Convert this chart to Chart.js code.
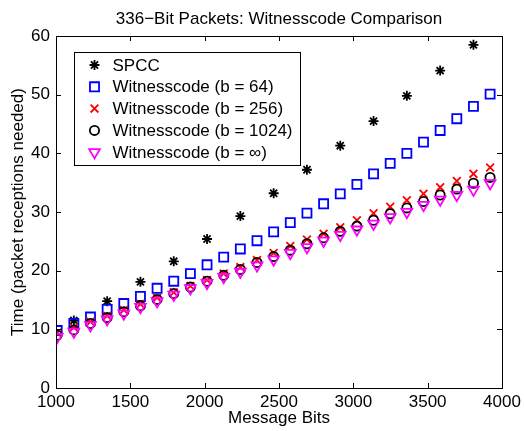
<!DOCTYPE html>
<html>
<head>
<meta charset="utf-8">
<script src="https://cdn.jsdelivr.net/npm/chart.js@4/dist/chart.umd.min.js"></script>
<style>
  html, body { margin: 0; padding: 0; background: #fff; }
  #wrap { width: 524px; height: 431px; }
</style>
</head>
<body>
<div id="wrap"><canvas id="chart"></canvas></div>
<script>
// message sizes (bits) for the witnesscode runs
const bits = [1008, 1120, 1232, 1344, 1456, 1568, 1680, 1792, 1904, 2016, 2128, 2240, 2352, 2464,
              2576, 2688, 2800, 2912, 3024, 3136, 3248, 3360, 3472, 3584, 3696, 3808, 3920];
// SPCC only every other size
const spccBits = [1120, 1344, 1568, 1792, 2016, 2240, 2464, 2688, 2912, 3136, 3360, 3584, 3808];

const spcc = [11.5, 14.8, 18.1, 21.6, 25.4, 29.3, 33.2, 37.2, 41.3, 45.5, 49.8, 54.1, 58.5];
const wc64 = [9.8, 11.0, 12.1, 13.4, 14.4, 15.6, 17.0, 18.2, 19.5, 21.0, 22.3, 23.7, 25.1, 26.6,
              28.2, 29.8, 31.4, 33.1, 34.7, 36.5, 38.3, 40.0, 41.9, 43.9, 45.9, 48.0, 50.1];
const wc256 = [9.4, 10.3, 11.3, 12.3, 13.3, 14.3, 15.4, 16.3, 17.4, 18.4, 19.5, 20.6, 21.8, 23.0,
               24.2, 25.3, 26.3, 27.4, 28.6, 29.8, 30.9, 32.0, 33.1, 34.2, 35.3, 36.5, 37.6];
const wc1024 = [9.0, 9.9, 11.0, 12.0, 13.0, 14.0, 15.1, 16.1, 17.2, 18.2, 19.2, 20.2, 21.4, 22.4,
                23.5, 24.6, 25.6, 26.7, 27.6, 28.6, 29.7, 30.7, 31.8, 32.9, 33.9, 34.9, 35.9];
const wcInf = [8.7, 9.6, 10.7, 11.7, 12.7, 13.8, 14.8, 15.9, 17.0, 17.9, 18.9, 19.8, 20.9, 21.9,
               23.0, 24.0, 25.1, 26.1, 27.0, 28.0, 29.1, 30.0, 31.2, 32.1, 32.9, 33.8, 34.9];

const seriesLabels = ['SPCC', 'Witnesscode (b = 64)', 'Witnesscode (b = 256)',
                      'Witnesscode (b = 1024)', 'Witnesscode (b = \u221e)'];

const FONT = 'Liberation Sans, Arial, Helvetica, sans-serif';

function pts(xs, ys) {
    return xs.map((x, i) => ({ x: x, y: ys[i] }));
}

function series(label, xs, ys, style, color, radius, rotation, order) {
    return {
        label: label,
        data: pts(xs, ys),
        showLine: false,
        pointStyle: style,
        pointRadius: radius,
        pointHoverRadius: radius,
        pointRotation: rotation,
        pointBorderColor: color,
        pointBackgroundColor: 'rgba(0,0,0,0)',
        pointBorderWidth: 1.8,
        borderColor: color,
        backgroundColor: 'rgba(0,0,0,0)',
        order: order
    };
}

// box with inward ticks on all four sides (matlab style)
const boxPlugin = {
    id: 'box',
    afterDatasetsDraw(chart) {
        const { ctx, chartArea: a, scales } = chart;
        ctx.save();
        ctx.strokeStyle = '#000';
        ctx.lineWidth = 1;
        const len = 5;
        scales.x.ticks.forEach(t => {
            const px = Math.round(scales.x.getPixelForValue(t.value)) + 0.5;
            ctx.beginPath();
            ctx.moveTo(px, a.bottom); ctx.lineTo(px, a.bottom - len);
            ctx.moveTo(px, a.top); ctx.lineTo(px, a.top + len);
            ctx.stroke();
        });
        scales.y.ticks.forEach(t => {
            const py = Math.round(scales.y.getPixelForValue(t.value)) + 0.5;
            ctx.beginPath();
            ctx.moveTo(a.left, py); ctx.lineTo(a.left + len, py);
            ctx.moveTo(a.right, py); ctx.lineTo(a.right - len, py);
            ctx.stroke();
        });
        ctx.strokeRect(Math.round(a.left) + 0.5, Math.round(a.top) + 0.5,
                       Math.round(a.right - a.left), Math.round(a.bottom - a.top));
        ctx.restore();
    }
};

// legend drawn inside the axes, upper left
const insideLegend = {
    id: 'insideLegend',
    afterDraw(chart) {
        const { ctx, chartArea: a } = chart;
        const x0 = a.left + 18.5, y0 = a.top + 16.5, w = 226, h = 113;
        ctx.save();
        ctx.fillStyle = '#fff';
        ctx.fillRect(x0, y0, w, h);
        ctx.strokeStyle = '#000';
        ctx.lineWidth = 1;
        ctx.strokeRect(x0, y0, w, h);
        ctx.font = '17px ' + FONT;
        ctx.textBaseline = 'middle';
        ctx.fillStyle = '#000';
        chart.data.datasets.forEach((ds, i) => {
            const cy = y0 + 12.5 + i * 21.8;
            ctx.strokeStyle = ds.pointBorderColor;
            ctx.fillStyle = 'rgba(0,0,0,0)';
            ctx.lineWidth = ds.pointBorderWidth;
            Chart.helpers.drawPoint(ctx, {
                pointStyle: ds.pointStyle,
                rotation: ds.pointRotation,
                radius: ds.pointRadius,
                borderWidth: ds.pointBorderWidth
            }, x0 + 20, cy);
            ctx.fillStyle = '#000';
            ctx.fillText(ds.label, x0 + 38, cy + 1);
        });
        ctx.restore();
    }
};

const ctx = document.getElementById('chart').getContext('2d');
const chart = new Chart(ctx, {
    type: 'scatter',
    data: {
        datasets: [
            series(seriesLabels[0], spccBits, spcc, 'star', '#000000', 5, 0, 5),
            series(seriesLabels[1], bits, wc64, 'rect', '#0000ff', 6.4, 0, 4),
            series(seriesLabels[2], bits, wc256, 'crossRot', '#ff0000', 5.5, 0, 3),
            series(seriesLabels[3], bits, wc1024, 'circle', '#000000', 4.6, 0, 2),
            series(seriesLabels[4], bits, wcInf, 'triangle', '#ff00ff', 6.2, 180, 1)
        ]
    },
    options: {
        responsive: true,
        maintainAspectRatio: false,
        animation: false,
        events: [],
        layout: {
            padding: { left: 0, right: 22, top: 0, bottom: 0 }
        },
        plugins: {
            legend: { display: false },
            tooltip: { enabled: false },
            title: {
                display: true,
                fullSize: false,
                text: '336\u2212Bit Packets: Witnesscode Comparison',
                color: '#000',
                font: { family: FONT, size: 17, weight: 'normal', lineHeight: 1.2 },
                padding: { top: 9, bottom: 6.6 }
            }
        },
        scales: {
            x: {
                type: 'linear',
                min: 1000,
                max: 4000,
                afterFit(scale) {
                    scale.height = 43;
                    scale.paddingLeft = 0;
                    scale.paddingRight = 0;
                },
                ticks: {
                    stepSize: 500,
                    color: '#000',
                    padding: 4,
                    maxRotation: 0,
                    font: { family: FONT, size: 17 },
                    callback: v => String(v)
                },
                grid: { display: false, drawTicks: false },
                border: { display: false },
                title: {
                    display: true,
                    text: 'Message Bits',
                    color: '#000',
                    font: { family: FONT, size: 17, lineHeight: 1.2 },
                    padding: { top: 0, bottom: 2 }
                }
            },
            y: {
                type: 'linear',
                min: 0,
                max: 60,
                afterFit(scale) { scale.width = 56; },
                ticks: {
                    stepSize: 10,
                    color: '#000',
                    padding: 6,
                    font: { family: FONT, size: 17 }
                },
                grid: { display: false, drawTicks: false },
                border: { display: false },
                title: {
                    display: true,
                    text: 'Time (packet receptions needed)',
                    color: '#000',
                    font: { family: FONT, size: 17, lineHeight: 1.2 },
                    padding: { top: 8, bottom: 0 }
                }
            }
        }
    },
    plugins: [boxPlugin, insideLegend]
});
</script>
</body>
</html>
